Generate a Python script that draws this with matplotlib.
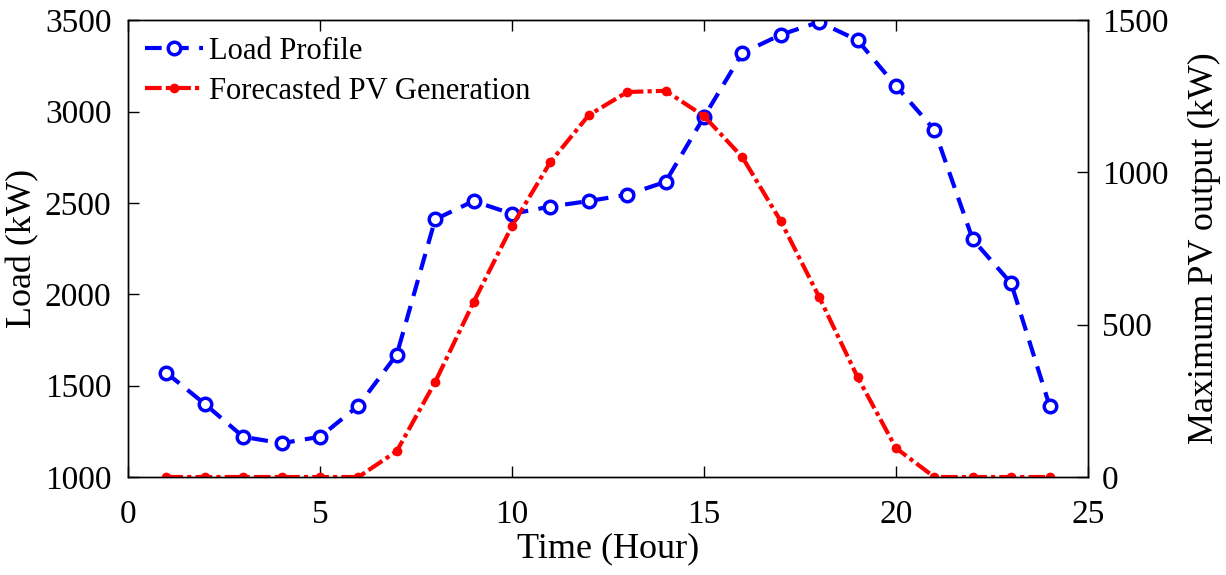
import numpy as np
import matplotlib.pyplot as plt

plt.rcParams['font.family'] = ['Liberation Serif', 'DejaVu Serif']

hours = np.arange(1, 25)
load = [1570, 1400, 1220, 1185, 1220, 1390, 1670, 2410, 2510, 2440, 2480, 2510,
        2545, 2615, 2970, 3320, 3420, 3490, 3390, 3140, 2900, 2300, 2060, 1390]
pv = [0, 0, 0, 0, 0, 0, 85, 312, 574, 824, 1034, 1188,
      1264, 1268, 1185, 1050, 840, 591, 328, 95, 0, 0, 0, 0]

fig = plt.figure(figsize=(12.26, 5.75), dpi=100)
ax = fig.add_axes([0.1044, 0.1704, 0.7830, 0.7946])
ax2 = ax.twinx()

l1, = ax.plot(hours, load, color="#0000ff", linestyle=(0, (4, 2.5)), linewidth=3,
              marker="o", markersize=9, markerfacecolor="white", markeredgewidth=2.5)
l2, = ax2.plot(hours, pv, color="#ff0000", linestyle=(0, (4, 1, 1, 1)), linewidth=3,
               marker="o", markersize=7, markerfacecolor="#ff0000", markeredgewidth=0)

ax.set_xlim(0, 25)
ax.set_ylim(1000, 3500)
ax2.set_ylim(0, 1500)
ax.set_xticks([0, 5, 10, 15, 20, 25])
ax.set_yticks([1000, 1500, 2000, 2500, 3000, 3500])
ax2.set_yticks([0, 500, 1000, 1500])

for a in (ax, ax2):
    a.tick_params(direction="in", labelsize=24, length=8, width=1, top=True)
    for s in a.spines.values():
        s.set_linewidth(1)
ax.tick_params(axis="x", pad=16)
ax.tick_params(axis="y", pad=12)
ax2.tick_params(axis="y", pad=10)

ax.set_xlabel("Time (Hour)", fontsize=26, labelpad=2)
ax.set_ylabel("Load (kW)", fontsize=26, labelpad=4)
ax2.set_ylabel("Maximum PV output (kW)", fontsize=26, labelpad=14)

ax.legend([l1, l2], ["Load Profile", "Forecasted PV Generation"], loc="upper left",
          fontsize=22, frameon=False, handlelength=1.9, handletextpad=0.2,
          borderaxespad=0.1, labelspacing=0.35, borderpad=0.45)

plt.savefig("out.png", dpi=100)
